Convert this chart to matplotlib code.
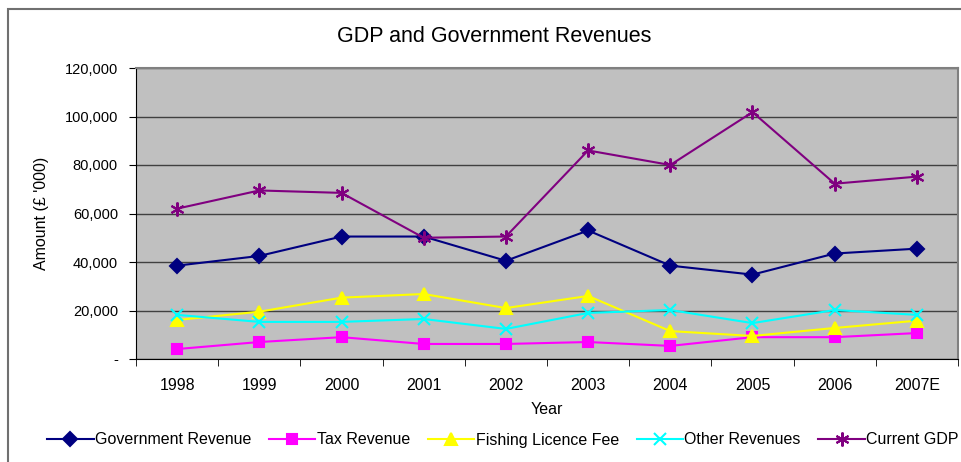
import numpy as np
import matplotlib
matplotlib.use('Agg')
import matplotlib.pyplot as plt
from matplotlib.patches import Rectangle
from matplotlib.ticker import FuncFormatter, FixedLocator

plt.rcParams['font.family'] = ['Liberation Sans', 'DejaVu Sans']

years = ['1998', '1999', '2000', '2001', '2002', '2003', '2004', '2005', '2006', '2007E']
gov_revenue = [38500, 42500, 50500, 50500, 40500, 53000, 38500, 34800, 43500, 45500]
tax_revenue = [4100, 7000, 9000, 6200, 6200, 7000, 5400, 9000, 9000, 10700]
fishing_fee = [16100, 19500, 25300, 26800, 21000, 26000, 11500, 9500, 12800, 15800]
other_revenues = [18200, 15300, 15300, 16500, 12400, 19000, 20200, 14800, 20200, 18200]
current_gdp = [62000, 69500, 68500, 50000, 50500, 86000, 80000, 101800, 72300, 75200]

fig = plt.figure(figsize=(9.62, 4.62), dpi=100)
fig.patch.set_facecolor('white')

# chart area border (Excel style)
fig.patches.append(Rectangle((8 / 962, -0.1), 1.2, 1 - 9 / 462 + 0.1, transform=fig.transFigure,
                             fill=False, edgecolor='#707070', linewidth=1.5, zorder=0))

ax = fig.add_axes([136 / 962, 1 - 359 / 462, (958 - 136) / 962, (359 - 68) / 462])
ax.set_facecolor('#C0C0C0')

x = np.arange(len(years))
series = [
    (gov_revenue, 'Government Revenue', '#000080', 'D', 7),
    (tax_revenue, 'Tax Revenue', '#FF00FF', 's', 7),
    (fishing_fee, 'Fishing Licence Fee', '#FFFF00', '^', 8),
    (other_revenues, 'Other Revenues', '#00FFFF', 'x', 8),
    (current_gdp, 'Current GDP', '#800080', (6, 2, 0), 10),
]
for vals, name, col, mk, ms in series:
    ax.plot(x, vals, color=col, marker=mk, markersize=ms, linewidth=1.5,
            markeredgewidth=1.5, label=name, zorder=3)

ax.set_xlim(-0.5, len(years) - 0.5)
ax.set_ylim(0, 120000)
ax.set_yticks(np.arange(0, 120001, 20000))
ax.yaxis.set_major_formatter(FuncFormatter(lambda v, p: '-' if v == 0 else f'{int(v):,}'))
ax.grid(axis='y', color='#404040', linewidth=1)
ax.set_axisbelow(True)

ax.set_xticks(x)
ax.set_xticklabels(years)
ax.xaxis.set_minor_locator(FixedLocator(np.arange(-0.5, len(years), 1)))
ax.tick_params(axis='x', which='major', length=0, pad=14, labelsize=11.5)
ax.tick_params(axis='x', which='minor', length=5, direction='out', color='black')
ax.tick_params(axis='y', length=5, direction='out', labelsize=10.5, pad=8)

for side in ['top', 'right']:
    ax.spines[side].set_color('#808080')
    ax.spines[side].set_linewidth(1.5)
ax.spines['left'].set_color('black')
ax.spines['bottom'].set_color('black')

ax.set_xlabel('Year', fontsize=11.5, labelpad=6)
ax.set_ylabel('Amount (£ \'000)', fontsize=11.5, labelpad=11)
fig.text(494 / 962, 1 - 37 / 462, 'GDP and Government Revenues', fontsize=15.5,
         ha='center', va='center')

ax.legend(loc='center', bbox_to_anchor=(503 / 962, 1 - 440 / 462), bbox_transform=fig.transFigure,
          ncol=5, frameon=False, fontsize=11.5, handlelength=2.9, columnspacing=1.1,
          handletextpad=0.1, borderaxespad=0)

fig.savefig('out.png', dpi=100)
